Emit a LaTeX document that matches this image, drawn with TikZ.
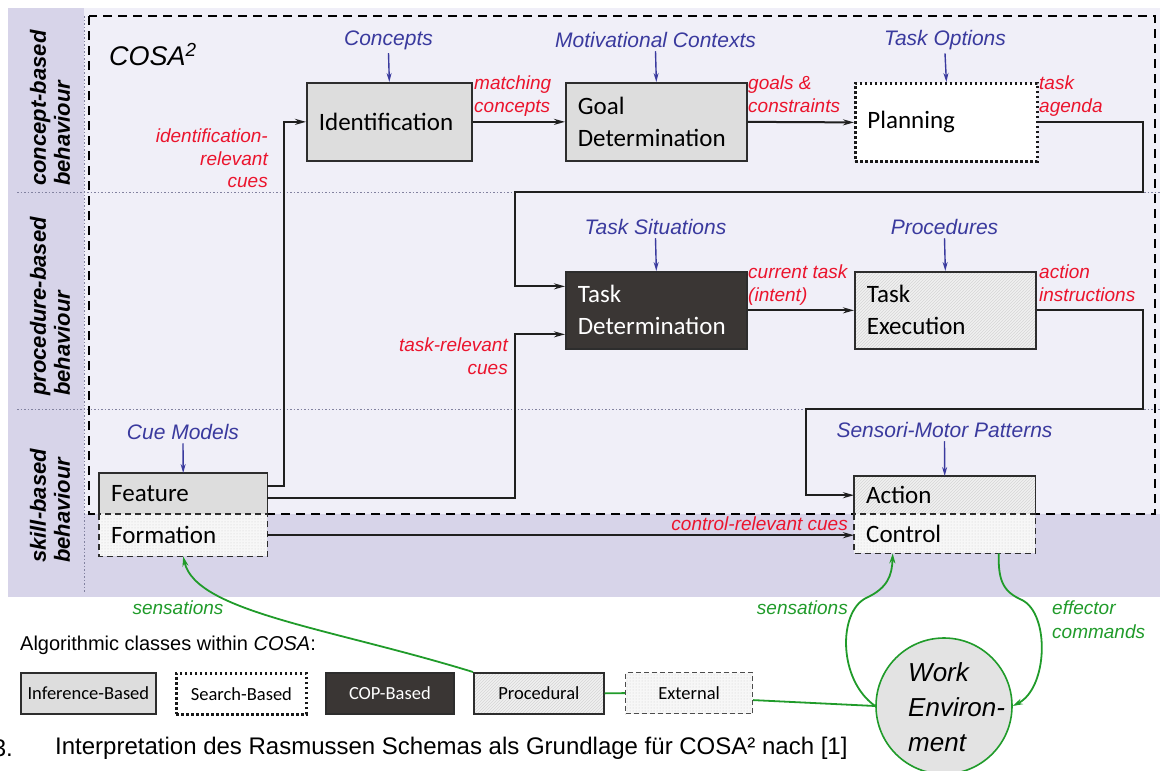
\documentclass[tikz,border=0pt]{standalone}
\usepackage{fontspec}
\setmainfont{Liberation Sans}
\newfontfamily\boxfont{Carlito}
\usetikzlibrary{arrows.meta,patterns}
\definecolor{bgdark}{RGB}{215,212,233}
\definecolor{bglight}{RGB}{240,239,248}
\definecolor{lblue}{RGB}{58,58,158}
\definecolor{lred}{RGB}{235,20,45}
\definecolor{lgreen}{RGB}{32,155,42}
\definecolor{boxgray}{RGB}{221,221,221}
\definecolor{boxdark}{RGB}{58,54,52}
\definecolor{edge}{RGB}{45,45,45}
\definecolor{sepc}{RGB}{130,130,160}
\tikzset{
  fbox/.style={anchor=north west, inner xsep=12pt, inner ysep=0pt, align=left,
    font=\boxfont\fontsize{25}{32}\selectfont},
  bordered/.style={draw=edge, line width=1.7pt},
  inffill/.style={fill=boxgray},
  hatchfill/.style={preaction={fill=gray!11}, pattern=north east lines, pattern color=gray!32},
  dotfill/.style={preaction={fill=gray!6}, pattern=dots, pattern color=gray!40},
  dotborder/.style={draw=black!90, line width=2.8pt, dash pattern=on 2.6pt off 2.4pt},
  dashborder/.style={draw=edge, line width=1.5pt, dash pattern=on 6pt off 4pt},
  ctx/.style={text=lblue, font=\itshape\fontsize{21}{25}\selectfont},
  cue/.style={text=lred, font=\itshape\fontsize{19}{22.5}\selectfont, inner sep=0pt},
  gcue/.style={text=lgreen, font=\itshape\fontsize{19}{24}\selectfont, inner sep=0pt},
  lvl/.style={rotate=90, font=\bfseries\itshape\fontsize{22}{24}\selectfont, align=left, inner sep=0pt, anchor=west},
  conn/.style={draw=black!88, line width=2pt, -{Stealth[length=11pt,width=6pt]}},
  bconn/.style={draw=lblue, line width=1.4pt, -{Stealth[length=9pt,width=5pt]}},
  gline/.style={draw=lgreen, line width=1.8pt},
  gconn/.style={gline, -{Stealth[length=10pt,width=6pt]}},
  legbox/.style={anchor=north west, minimum height=41pt, inner sep=0pt, font=\boxfont\fontsize{18.5}{20}\selectfont},
  sepline/.style={draw=sepc, line width=0.8pt, dash pattern=on 1.5pt off 2pt},
}
\begin{document}
\begin{tikzpicture}[x=1pt,y=-1pt]
\useasboundingbox (0,0) rectangle (1162,771);
% backgrounds
\fill[bgdark] (8,8) rectangle (1160,597);
\fill[bglight] (84,8) rectangle (1160,514);
\draw[sepline] (17,192) -- (1160,192);
\draw[sepline] (17,409) -- (1160,409);
\draw[sepline] (84,16) -- (84,592);
\draw[line width=2.5pt, dash pattern=on 9pt off 6pt] (89,16) rectangle (1155,514);

% level labels
\node[lvl] (lv1) at (50,186) {concept-based\\behaviour};
\node[lvl] (lv2) at (50,396) {procedure-based\\behaviour};
\node[lvl] (lv3) at (50,563) {skill-based\\behaviour};
\node[anchor=west, inner sep=0pt, font=\itshape\fontsize{27}{30}\selectfont] (cosa) at (109,55) {COSA\textsuperscript{2}};

% boxes
\node[fbox, bordered, inffill, text width=141pt, minimum height=78pt] (ident) at (306,82) {Identification};
\node[fbox, bordered, inffill, text width=157pt, minimum height=78pt] (goal) at (565,82) {Goal\\Determination};
\node[fbox, dotborder, fill=white, text width=158pt, minimum height=78pt] (plan) at (854,82) {Planning};
\node[fbox, bordered, fill=boxdark, text=white, text width=157pt, minimum height=77pt] (tdet) at (565,271) {Task\\Determination};
\node[fbox, bordered, hatchfill, text width=157pt, minimum height=77pt] (texe) at (854,271) {Task\\Execution};

\node[fbox, inffill, text width=144pt, minimum height=41pt] (feat) at (99,473) {Feature};
\node[fbox, dotfill, text width=144pt, minimum height=42pt] (form) at (99,514) {Formation};
\draw[bordered] (feat.south west) |- (feat.north east) -- (feat.south east);
\draw[dashborder] (form.north west) rectangle (form.south east);

\node[fbox, hatchfill, text width=157pt, minimum height=38pt] (act) at (854,476) {Action};
\node[fbox, dotfill, text width=157pt, minimum height=39pt] (ctrl) at (854,514) {Control};
\draw[bordered] (act.south west) |- (act.north east) -- (act.south east);
\draw[dashborder] (ctrl.north west) rectangle (ctrl.south east);

% blue context labels
\node[ctx] (lConcepts) at (388.5,40) {Concepts};
\node[ctx] (lMotiv) at (655.5,40) {Motivational Contexts};
\node[ctx] (lOptions) at (945,40) {Task Options};
\node[ctx] (lSitu) at (655.5,227) {Task Situations};
\node[ctx] (lProc) at (944.5,227) {Procedures};
\node[ctx] (lCue) at (183,432) {Cue Models};
\node[ctx] (lSensori) at (944.5,430) {Sensori-Motor Patterns};
\draw[bconn] (lConcepts.south) -- (ident.north);
\draw[bconn] (lMotiv.south) -- (goal.north);
\draw[bconn] (lOptions.south) -- (plan.north);
\draw[bconn] (lSitu.south) -- (tdet.north);
\draw[bconn] (lProc.south) -- (texe.north);
\draw[bconn] (lCue.south) -- (feat.north);
\draw[bconn] (lSensori.south) -- (act.north);

% black connectors
\draw[conn] (ident.east) -- (goal.west);
\draw[conn] (goal.east) -- (plan.west);
\draw[conn] ([yshift=8pt]feat.east) -- ++(17,0) |- (ident.west);
\draw[conn] ([yshift=-4pt]feat.east) -| ([xshift=-50pt,yshift=-24pt]tdet.west) -- ([yshift=-24pt]tdet.west);
\draw[conn] (plan.east) -| (1143,192) -| ([xshift=-50pt,yshift=24pt]tdet.west) -- ([yshift=24pt]tdet.west);
\draw[conn] (tdet.east) -- (texe.west);
\draw[conn] (texe.east) -| (1143,409) -| ([xshift=-48pt]act.west) -- (act.west);
\draw[conn] (form.east) -- (form.east -| ctrl.west);

% red labels
\node[cue, anchor=north east, align=right] (c1) at (268,129) {identification-\\relevant\\cues};
\node[cue, anchor=north west, align=left] (c2) at (474,76) {matching\\concepts};
\node[cue, anchor=north west, align=left] (c3) at (748,76) {goals \&\\constraints};
\node[cue, anchor=north west, align=left] (c4) at (1039,76) {task\\agenda};
\node[cue, anchor=north west, align=left] (c5) at (748,265) {current task\\(intent)};
\node[cue, anchor=north west, align=left] (c6) at (1039,265) {action\\instructions};
\node[cue, anchor=north east, align=right] (c7) at (508,338) {task-relevant\\cues};
\node[cue, anchor=north east] (c8) at (848,517) {control-relevant cues};

% legend
\node[anchor=west, inner sep=0pt, font=\fontsize{20}{24}\selectfont] (legtitle) at (20,645) {Algorithmic classes within \textit{COSA}:};
\node[legbox, bordered, inffill, minimum width=135pt] (linf) at (20,672) {Inference-Based};
\node[legbox, dotborder, fill=white, minimum width=130pt] (lsrch) at (175,672) {Search-Based};
\node[legbox, bordered, fill=boxdark, text=white, minimum width=128pt] (lcop) at (325,672) {COP-Based};
\node[legbox, bordered, hatchfill, minimum width=130pt] (proc) at (473,672) {Procedural};
\node[legbox, dotfill, draw=gray!60!black, line width=1.2pt, dash pattern=on 5pt off 3pt, minimum width=127pt] (ext) at (625,672) {External};

% work environment
\node[circle, draw=lgreen, line width=1.6pt, fill=gray!22, minimum size=136pt, inner sep=0pt] (we) at (944,706) {};
\node[anchor=west, align=left, font=\itshape\fontsize{26}{35}\selectfont, inner sep=0pt] (wet) at (908,707) {Work\\Environ-\\ment};

% green connectors
\draw[gconn] (we.west) .. controls (838,680) and (838,612) .. (866,598) .. controls (888,588) and (892,575) .. ([xshift=-52pt]ctrl.south);
\draw[gconn] ([xshift=54pt]ctrl.south) .. controls (998,582) and (1004,592) .. (1022,600) .. controls (1050,614) and (1048,688) .. (we.east);
\draw[gline] (we.west) -- ([yshift=-7pt]ext.east);
\draw[gline] (proc.east) -- (ext.west);
\draw[gconn] (proc.north west) .. controls (330,628) and (196,612) .. (form.south);

\node[gcue] (gs1) at (178,608) {sensations};
\node[gcue, anchor=east] (gs2) at (848,608) {sensations};
\node[gcue, anchor=north west, align=left] (geff) at (1052,601) {effector\\commands};

% caption
\node[anchor=west, inner sep=0pt, font=\fontsize{24}{28}\selectfont] (cap) at (55,748) {Interpretation des Rasmussen Schemas als Grundlage für COSA² nach [1]};
\node[anchor=east, inner sep=0pt, font=\fontsize{24}{28}\selectfont] (capnum) at (13,748) {3.};
\end{tikzpicture}
\end{document}
